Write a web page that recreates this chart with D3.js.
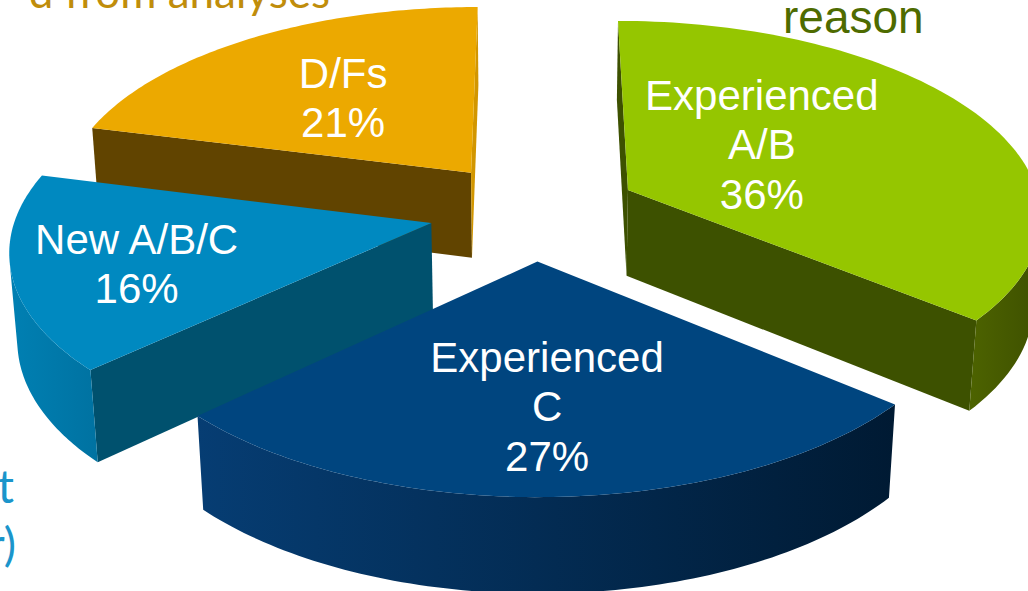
<!DOCTYPE html>
<html>
<head>
<meta charset="utf-8">
<script src="https://cdn.jsdelivr.net/npm/d3@7"></script>
<style>
  html, body { margin: 0; padding: 0; background: #ffffff; overflow: hidden; }
  svg { display: block; }
</style>
</head>
<body>
<svg id="chart" width="1028" height="591"></svg>
<script>
// ---- data ----
const categories = ["Experienced A/B", "Experienced C", "New A/B/C", "D/Fs"];
const labelLines = [["Experienced", "A/B"], ["Experienced", "C"], ["New A/B/C"], ["D/Fs"]];
const shares = [36, 27, 16, 21];

// ---- colours: top face, flat cut faces, curved rim (left -> right) ----
const topColors  = ["#95c600", "#00457f", "#0089c0", "#eca900"];
const cutColors  = ["#3d5100", "#00345f", "#00516e", "#614400"];
const endColors  = ["#3d5100", "#00345f", "#00516e", "#d29600"];
const rimColors  = [["#4d6300", "#3e5000"], ["#063d73", "#001a33"], ["#0080b3", "#0072a1"], ["#c99000", "#a87800"]];

// ---- 3D view of the pie ----
const view = {
  cx: 534, cy: 210.7,          // screen position of the pie axis
  sinE: 0.4686, cosE: 0.8834,  // elevation of the camera
  dist: 7.36, focal: 3048,     // perspective
  thickness: 0.24,             // slab height (pie radius = 1)
  explode: 0.254               // every slice pulled out along its mid angle
};

function project(X, Z, h) {
  const up = Z * view.sinE + h * view.cosE;
  const depth = view.dist + Z * view.cosE - h * view.sinE;
  return [view.cx + view.focal * X / depth, view.cy - view.focal * up / depth];
}

const pie = d3.pie().sort(null).value(d => d).startAngle(0).endAngle(2 * Math.PI);
const arcs = pie(shares).map((a, i) => {
  const mid = (a.startAngle + a.endAngle) / 2;
  return {
    i, a0: a.startAngle, a1: a.endAngle, mid,
    ox: view.explode * Math.sin(mid),
    oz: view.explode * Math.cos(mid)
  };
});

const radius = d3.scaleLinear().domain([0, 1]).range([0, 1]);
const line = d3.line().curve(d3.curveLinearClosed);

function rim(s, th, h) {
  return project(s.ox + radius(1) * Math.sin(th), s.oz + radius(1) * Math.cos(th), h);
}
function apex(s, h) { return project(s.ox, s.oz, h); }

// camera position in pie space
const cam = { X: 0, Z: -view.dist * view.cosE, h: view.dist * view.sinE };

function rimFacing(s, th) {
  // outward normal of the cylinder wall against the direction to the camera
  return -Math.sin(th) * s.ox - Math.cos(th) * (-cam.Z + s.oz) - 1 > 0;
}
function cutFacing(s, nx, nz) {
  return nx * (cam.X - s.ox) + nz * (cam.Z - s.oz) > 0;
}

const svg = d3.select("#chart");
const defs = svg.append("defs");
const gPie = svg.append("g");

// far slices first
const order = arcs.slice().sort((p, q) => Math.cos(q.mid) - Math.cos(p.mid));
const T = -view.thickness;
const N = 90;

order.forEach(s => {
  const g = gPie.append("g").attr("class", "slice");

  // flat cut face at the start angle
  const n0 = [-Math.cos(s.a0), Math.sin(s.a0)];
  if (cutFacing(s, n0[0], n0[1])) {
    g.append("path")
      .attr("d", line([apex(s, 0), rim(s, s.a0, 0), rim(s, s.a0, T), apex(s, T)]))
      .attr("fill", cutColors[s.i]);
  }
  // flat cut face at the end angle
  const n1 = [Math.cos(s.a1), -Math.sin(s.a1)];
  if (cutFacing(s, n1[0], n1[1])) {
    g.append("path")
      .attr("d", line([apex(s, 0), rim(s, s.a1, 0), rim(s, s.a1, T), apex(s, T)]))
      .attr("fill", endColors[s.i]);
  }

  // curved outer wall, only the part turned toward the viewer
  const ths = d3.range(N + 1).map(k => s.a0 + (s.a1 - s.a0) * k / N).filter(th => rimFacing(s, th));
  if (ths.length > 1) {
    const topPts = ths.map(th => rim(s, th, 0));
    const botPts = ths.map(th => rim(s, th, T)).reverse();
    const xs = topPts.concat(botPts).map(p => p[0]);
    const x0 = d3.min(xs), x1 = d3.max(xs);
    const gid = "rim" + s.i;
    const grad = defs.append("linearGradient").attr("id", gid)
      .attr("gradientUnits", "userSpaceOnUse")
      .attr("x1", x0).attr("x2", x1).attr("y1", 0).attr("y2", 0);
    grad.append("stop").attr("offset", 0).attr("stop-color", rimColors[s.i][0]);
    grad.append("stop").attr("offset", 1).attr("stop-color", rimColors[s.i][1]);
    g.append("path").attr("d", line(topPts.concat(botPts))).attr("fill", `url(#${gid})`);
  }

  // top face
  const topFace = [apex(s, 0)].concat(d3.range(N + 1).map(k => rim(s, s.a0 + (s.a1 - s.a0) * k / N, 0)));
  g.append("path").attr("d", line(topFace)).attr("fill", topColors[s.i]);
});

// ---- slice labels (placed in pie space, relative to each slice's tip) ----
const labelPolar = [[54.2, 0.424], [178.2, 0.645], [253.6, 0.712], [321.5, 0.546]];
const lineGap = 49.5;
const labelSize = 42;
arcs.forEach(s => {
  const [deg, r] = labelPolar[s.i];
  const th = deg * Math.PI / 180;
  const [lx, ly] = project(s.ox + radius(r) * Math.sin(th), s.oz + radius(r) * Math.cos(th), 0);
  const lines = labelLines[s.i].concat([shares[s.i] + "%"]);
  const t = svg.append("text")
    .attr("text-anchor", "middle")
    .attr("font-family", "'Liberation Sans', Arial, sans-serif")
    .attr("font-size", labelSize)
    .attr("fill", "#ffffff");
  lines.forEach((txt, k) => {
    t.append("tspan")
      .attr("x", lx)
      .attr("y", ly + 0.358 * labelSize + (k - (lines.length - 1) / 2) * lineGap)
      .text(txt);
  });
});

// ---- callout text running in from outside the frame ----
svg.append("text")
  .attr("x", 330).attr("y", 8)
  .attr("text-anchor", "end")
  .attr("font-family", "Lato, 'Open Sans', sans-serif")
  .attr("font-size", 44)
  .attr("fill", "#c08d0b")
  .text("d from analyses");

svg.append("text")
  .attr("x", 783).attr("y", 33)
  .attr("font-family", "'Liberation Sans', Arial, sans-serif")
  .attr("font-size", 46)
  .attr("fill", "#4e6b00")
  .text("reason");

svg.append("text")
  .attr("x", 14).attr("y", 503)
  .attr("text-anchor", "end")
  .attr("font-family", "Lato, 'Open Sans', sans-serif")
  .attr("font-size", 46)
  .attr("fill", "#1b95cb")
  .text("t");

svg.append("text")
  .attr("x", 16).attr("y", 561)
  .attr("text-anchor", "end")
  .attr("font-family", "Lato, 'Open Sans', sans-serif")
  .attr("font-size", 46)
  .attr("fill", "#1b95cb")
  .text("r)");
</script>
</body>
</html>
